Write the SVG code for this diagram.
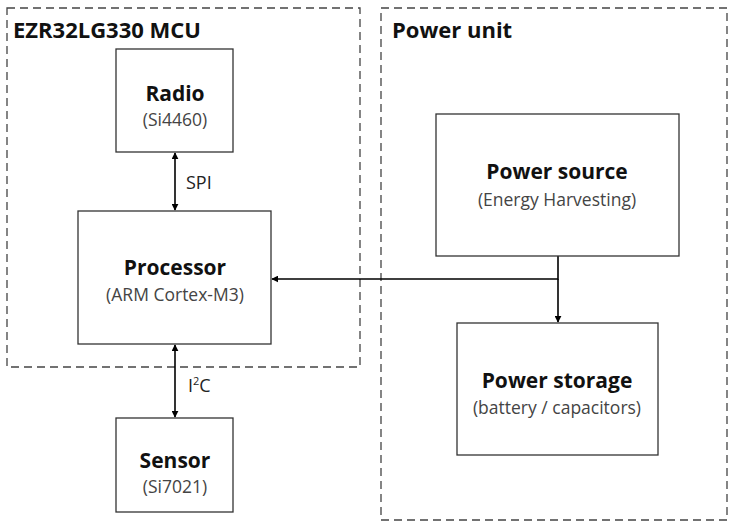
<svg xmlns="http://www.w3.org/2000/svg" width="729" height="522" viewBox="0 0 729 522">
<defs>
<marker id="ah" viewBox="0 0 10 10" refX="9" refY="5" markerWidth="7" markerHeight="7" markerUnits="userSpaceOnUse" orient="auto-start-reverse"><path d="M0,0 L10,5 L0,10 z" fill="#000"/></marker>
<style>
.grp{fill:none;stroke:#444;stroke-width:1.3;stroke-dasharray:8,5}
.box{fill:#fff;stroke:#333;stroke-width:1.3}
.t{font-family:"Open Sans","Liberation Sans",sans-serif;font-weight:bold;font-size:21px;fill:#111;text-anchor:middle}
.s{font-family:"Open Sans","Liberation Sans",sans-serif;font-size:17.5px;fill:#444;text-anchor:middle}
.h{font-family:"Open Sans","Liberation Sans",sans-serif;font-weight:bold;font-size:22px;fill:#111}
.l{font-family:"Open Sans","Liberation Sans",sans-serif;font-size:18px;fill:#222}
.c{fill:none;stroke:#000;stroke-width:1.6}
</style>
</defs>
<rect width="729" height="522" fill="#fff"/>
<g id="mcu-group">
<rect class="grp" x="7" y="8" width="353" height="359"/>
<text class="h" x="13" y="38">EZR32LG330 MCU</text>
</g>
<g id="power-unit-group">
<rect class="grp" x="381" y="8" width="346" height="512"/>
<text class="h" x="392" y="38">Power unit</text>
</g>
<g id="connectors">
<line class="c" x1="175" y1="153" x2="175" y2="210" marker-start="url(#ah)" marker-end="url(#ah)"/>
<line class="c" x1="175" y1="345" x2="175" y2="417" marker-start="url(#ah)" marker-end="url(#ah)"/>
<polyline class="c" points="558,256 558,279 272,279" marker-end="url(#ah)"/>
<line class="c" x1="558" y1="279" x2="558" y2="322" marker-end="url(#ah)"/>
<text class="l" x="186" y="189">SPI</text>
<text class="l" x="188" y="392">I<tspan font-size="11" dy="-7">2</tspan><tspan dy="7">C</tspan></text>
</g>
<g id="radio">
<rect class="box" x="116" y="49" width="117" height="103"/>
<text class="t" x="175" y="101">Radio</text>
<text class="s" x="175" y="126">(Si4460)</text>
</g>
<g id="processor">
<rect class="box" x="78" y="211" width="193" height="133"/>
<text class="t" x="175" y="275">Processor</text>
<text class="s" x="175" y="301">(ARM Cortex-M3)</text>
</g>
<g id="sensor">
<rect class="box" x="116" y="418" width="117" height="94"/>
<text class="t" x="175" y="468">Sensor</text>
<text class="s" x="175" y="493">(Si7021)</text>
</g>
<g id="power-source">
<rect class="box" x="436" y="114" width="243" height="142"/>
<text class="t" x="557" y="179">Power source</text>
<text class="s" x="557" y="206">(Energy Harvesting)</text>
</g>
<g id="power-storage">
<rect class="box" x="457" y="323" width="201" height="132"/>
<text class="t" x="557" y="388">Power storage</text>
<text class="s" x="557" y="414">(battery / capacitors)</text>
</g>
</svg>
